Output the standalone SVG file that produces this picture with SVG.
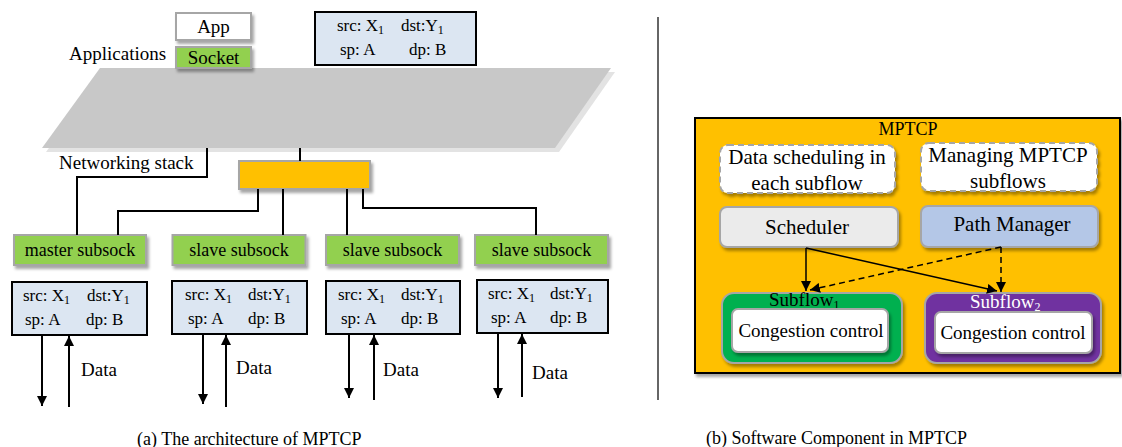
<svg xmlns="http://www.w3.org/2000/svg" width="1122" height="447" viewBox="0 0 1122 447">
<style>
text{fill:#000}
.t19{font-size:19px}
.t18{font-size:18px}
.t17{font-size:17px}
.t21{font-size:21px}
.mid{text-anchor:middle}
.sub{font-size:12px}
.gbox{stroke:#a6a6a6;stroke-width:2}
.pkt{fill:#dce6f2;stroke:#000;stroke-width:2}
.ss{fill:#92d050;stroke:#a6a6a6;stroke-width:2}
.ln{fill:none;stroke:#000;stroke-width:2}
.arr{fill:none;stroke:#000;stroke-width:2;marker-end:url(#ah)}
.arr2{fill:none;stroke:#000;stroke-width:1.5;marker-end:url(#ah)}
.dash{stroke-dasharray:6 4}
</style>
<defs>
<filter id="sh" x="-10%" y="-10%" width="130%" height="140%">
<feDropShadow dx="2" dy="3" stdDeviation="1.5" flood-color="#000" flood-opacity="0.35"/>
</filter>
<marker id="ah" viewBox="0 0 10 10" refX="10" refY="5" markerWidth="10" markerHeight="10" markerUnits="userSpaceOnUse" orient="auto">
<path d="M0,0 L10,5 L0,10 z" fill="#000"/>
</marker>
</defs>
<rect width="1122" height="447" fill="#fff"/>
<g font-family="'Liberation Serif', 'DejaVu Serif', serif">
<g id="networking-stack">
<polygon points="104,72 615,72 559,152 46,152" fill="#e3e3e3"/>
<polygon points="100,68 611,68 555,148 42,148" fill="#c8c8c8"/>
<text class="t19" x="59" y="169">Networking stack</text>
</g>
<g id="app">
<rect x="176" y="13" width="75" height="27" fill="#fff" class="gbox" filter="url(#sh)"/>
<text class="t19 mid" x="213.5" y="33">App</text>
</g>
<g id="socket">
<rect x="176" y="47" width="75" height="21" fill="#92d050" class="gbox" filter="url(#sh)"/>
<text class="t19 mid" x="213.5" y="64">Socket</text>
</g>
<text id="applications" class="t19" x="69" y="60">Applications</text>
<g id="pkt-top">
<rect x="315" y="12" width="161" height="53" class="pkt"/>
<text class="t17" x="337" y="31">src: X<tspan class="sub" dy="3">1</tspan></text>
<text class="t17" x="401" y="31">dst:Y<tspan class="sub" dy="3">1</tspan></text>
<text class="t17" x="340" y="55">sp: A</text>
<text class="t17" x="409" y="55">dp: B</text>
</g>
<g id="mptcp-core">
<rect x="239" y="161" width="131" height="28" fill="#ffc000" class="gbox" filter="url(#sh)"/>
</g>
<g id="master-subsock">
<rect x="14" y="235" width="132" height="30" class="ss" filter="url(#sh)"/>
<text class="t18 mid" x="80" y="256">master subsock</text>
</g>
<g id="slave-subsock-1">
<rect x="172.5" y="235" width="133" height="30" class="ss" filter="url(#sh)"/>
<text class="t18 mid" x="239" y="256">slave subsock</text>
</g>
<g id="slave-subsock-2">
<rect x="326" y="235" width="133" height="30" class="ss" filter="url(#sh)"/>
<text class="t18 mid" x="392.5" y="256">slave subsock</text>
</g>
<g id="slave-subsock-3">
<rect x="475" y="235" width="133" height="30" class="ss" filter="url(#sh)"/>
<text class="t18 mid" x="541.5" y="256">slave subsock</text>
</g>
<g id="pkt-1">
<rect x="12" y="282" width="135" height="53" class="pkt"/>
<text class="t17" x="23" y="301">src: X<tspan class="sub" dy="3">1</tspan></text>
<text class="t17" x="87" y="301">dst:Y<tspan class="sub" dy="3">1</tspan></text>
<text class="t17" x="25" y="325">sp: A</text>
<text class="t17" x="86" y="325">dp: B</text>
</g>
<g id="pkt-2">
<rect x="172" y="281" width="135" height="53" class="pkt"/>
<text class="t17" x="185" y="300">src: X<tspan class="sub" dy="3">1</tspan></text>
<text class="t17" x="248" y="300">dst:Y<tspan class="sub" dy="3">1</tspan></text>
<text class="t17" x="188" y="324">sp: A</text>
<text class="t17" x="248" y="324">dp: B</text>
</g>
<g id="pkt-3">
<rect x="326" y="281" width="134" height="53" class="pkt"/>
<text class="t17" x="338" y="300">src: X<tspan class="sub" dy="3">1</tspan></text>
<text class="t17" x="401" y="300">dst:Y<tspan class="sub" dy="3">1</tspan></text>
<text class="t17" x="341" y="324">sp: A</text>
<text class="t17" x="401" y="324">dp: B</text>
</g>
<g id="pkt-4">
<rect x="477" y="280" width="131" height="53" class="pkt"/>
<text class="t17" x="488" y="299">src: X<tspan class="sub" dy="3">1</tspan></text>
<text class="t17" x="550" y="299">dst:Y<tspan class="sub" dy="3">1</tspan></text>
<text class="t17" x="491" y="323">sp: A</text>
<text class="t17" x="550" y="323">dp: B</text>
</g>
<g id="data-labels">
<text class="t19" x="81" y="376">Data</text>
<text class="t19" x="236" y="374">Data</text>
<text class="t19" x="383" y="376">Data</text>
<text class="t19" x="532" y="379">Data</text>
</g>

<g id="connectors-left">
<line class="ln" x1="300" y1="148" x2="300" y2="161"/>
<polyline class="ln" points="207,148 207,177 77,177 77,235"/>
<polyline class="ln" points="258,189 258,211 118,211 118,235"/>
<line class="ln" x1="283" y1="189" x2="283" y2="235"/>
<line class="ln" x1="347" y1="189" x2="347" y2="235"/>
<polyline class="ln" points="363,189 363,208 536,208 536,235"/>
<line class="arr" x1="42" y1="335" x2="42" y2="406"/>
<line class="arr" x1="69" y1="407" x2="69" y2="336"/>
<line class="arr" x1="203" y1="334" x2="203" y2="404"/>
<line class="arr" x1="226" y1="407" x2="226" y2="335"/>
<line class="arr" x1="349" y1="334" x2="349" y2="398"/>
<line class="arr" x1="374" y1="400" x2="374" y2="335"/>
<line class="arr" x1="498" y1="333" x2="498" y2="398"/>
<line class="arr" x1="522" y1="397" x2="522" y2="334"/>
</g>

<line id="divider" x1="658" y1="17" x2="658" y2="400" stroke="#333" stroke-width="1.5"/>

<text id="caption-a" class="t18" x="137" y="445">(a) The architecture of MPTCP</text>

<g id="mptcp">
<rect x="695" y="118" width="425" height="255" fill="#ffc000" stroke="#000" stroke-width="2" filter="url(#sh)"/>
<text class="t18 mid" x="908" y="135">MPTCP</text>
</g>
<g id="data-scheduling">
<rect x="720" y="145" width="175" height="48" rx="8" fill="#fff" class="gbox dash" filter="url(#sh)"/>
<text class="t21 mid" x="807" y="164">Data scheduling in</text>
<text class="t21 mid" x="807" y="190">each subflow</text>
</g>
<g id="managing-subflows">
<rect x="921" y="143" width="176" height="48" rx="8" fill="#fff" class="gbox dash" filter="url(#sh)"/>
<text class="t21 mid" x="1008" y="162">Managing MPTCP</text>
<text class="t21 mid" x="1008" y="188">subflows</text>
</g>
<g id="scheduler">
<rect x="720" y="207" width="178" height="40" rx="7" fill="#ebebeb" class="gbox" filter="url(#sh)"/>
<text class="t21 mid" x="807" y="234">Scheduler</text>
</g>
<g id="path-manager">
<rect x="921" y="206" width="177" height="41" rx="7" fill="#b4c7e7" class="gbox" filter="url(#sh)"/>
<text class="t21 mid" x="1012" y="231">Path Manager</text>
</g>
<g id="subflow1">
<rect x="722" y="293" width="180" height="70" rx="12" fill="#00b050" class="gbox" filter="url(#sh)"/>
<text class="t19" x="769" y="306">Subflow<tspan class="sub" dy="3">1</tspan></text>
<rect x="732" y="309" width="156" height="43" rx="6" fill="#fff" class="gbox" filter="url(#sh)"/>
<text class="t19 mid" x="811" y="337">Congestion control</text>
</g>
<g id="subflow2">
<rect x="925" y="293" width="176" height="70" rx="12" fill="#7030a0" class="gbox" filter="url(#sh)"/>
<text class="t19" x="970" y="308" style="fill:#fff">Subflow<tspan class="sub" dy="3">2</tspan></text>
<rect x="935" y="312" width="157" height="41" rx="6" fill="#fff" class="gbox" filter="url(#sh)"/>
<text class="t19 mid" x="1013" y="339">Congestion control</text>
</g>
<g id="connectors-right">
<line class="arr2" x1="806" y1="248" x2="806" y2="291"/>
<line class="arr2" x1="806" y1="248" x2="997" y2="291"/>
<line class="arr2 dash" x1="1001" y1="247" x2="1001" y2="292"/>
<line class="arr2 dash" x1="1001" y1="247" x2="810" y2="290"/>
</g>

<text id="caption-b" class="t18" x="706" y="444">(b) Software Component in MPTCP</text>
</g>
</svg>
